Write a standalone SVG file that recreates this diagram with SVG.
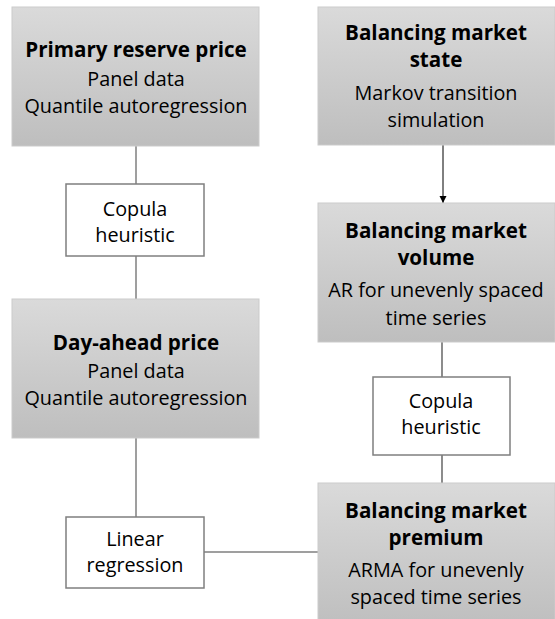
<svg xmlns="http://www.w3.org/2000/svg" width="555" height="619" viewBox="0 0 555 619">
<defs>
<linearGradient id="g" x1="0" y1="0" x2="0" y2="1">
<stop offset="0" stop-color="#dadada"/>
<stop offset="1" stop-color="#bebebe"/>
</linearGradient>
<marker id="ah" markerWidth="8" markerHeight="8" refX="7" refY="4" orient="auto" markerUnits="userSpaceOnUse">
<path d="M0,0.5 L7,4 L0,7.5 Z" fill="#000"/>
</marker>
<style>
.gb{fill:url(#g);stroke:#cbcbcb;stroke-width:1}
.wb{fill:#fff;stroke:#7f7f7f;stroke-width:1.5}
.t{font-family:"Open Sans","Liberation Sans",sans-serif;font-size:19.8px;fill:#000;text-anchor:middle}
.b{font-weight:bold;font-size:20.6px}
.c{stroke:#7f7f7f;stroke-width:1.5;fill:none}
.d{stroke:#404040;stroke-width:1.2;fill:none}
</style>
</defs>
<g id="connectors">
<line class="c" x1="136" y1="146" x2="136" y2="184"/>
<line class="c" x1="136" y1="256" x2="136" y2="299"/>
<line class="c" x1="136" y1="438" x2="136" y2="517"/>
<line class="c" x1="204" y1="552" x2="318" y2="552"/>
<line class="d" x1="442" y1="342" x2="442" y2="377"/>
<line class="d" x1="442" y1="455" x2="442" y2="483"/>
<line x1="443" y1="145" x2="443" y2="203" stroke="#000" stroke-width="1" marker-end="url(#ah)"/>
</g>
<g id="primary">
<rect class="gb" x="12" y="7" width="247" height="139"/>
<text class="t b" x="136" y="57">Primary reserve price</text>
<text class="t" x="136" y="86">Panel data</text>
<text class="t" x="136" y="113">Quantile autoregression</text>
</g>
<g id="state">
<rect class="gb" x="318" y="7" width="237" height="138"/>
<text class="t b" x="436" y="40">Balancing market</text>
<text class="t b" x="436" y="67">state</text>
<text class="t" x="436" y="100">Markov transition</text>
<text class="t" x="436" y="127">simulation</text>
</g>
<g id="copula1">
<rect class="wb" x="66" y="184" width="138" height="72"/>
<text class="t" x="135" y="216">Copula</text>
<text class="t" x="135" y="242">heuristic</text>
</g>
<g id="dayahead">
<rect class="gb" x="12" y="299" width="247" height="139"/>
<text class="t b" x="136" y="350">Day-ahead price</text>
<text class="t" x="136" y="378">Panel data</text>
<text class="t" x="136" y="405">Quantile autoregression</text>
</g>
<g id="volume">
<rect class="gb" x="318" y="203" width="237" height="139"/>
<text class="t b" x="436" y="238">Balancing market</text>
<text class="t b" x="436" y="265">volume</text>
<text class="t" x="436" y="297">AR for unevenly spaced</text>
<text class="t" x="436" y="325">time series</text>
</g>
<g id="copula2">
<rect class="wb" x="373" y="377" width="137" height="78"/>
<text class="t" x="441" y="408">Copula</text>
<text class="t" x="441" y="434">heuristic</text>
</g>
<g id="linear">
<rect class="wb" x="66" y="517" width="138" height="71"/>
<text class="t" x="135" y="546">Linear</text>
<text class="t" x="135" y="572">regression</text>
</g>
<g id="premium">
<rect class="gb" x="318" y="483" width="237" height="145"/>
<text class="t b" x="436" y="518">Balancing market</text>
<text class="t b" x="436" y="545">premium</text>
<text class="t" x="436" y="577">ARMA for unevenly</text>
<text class="t" x="436" y="604">spaced time series</text>
</g>
</svg>
